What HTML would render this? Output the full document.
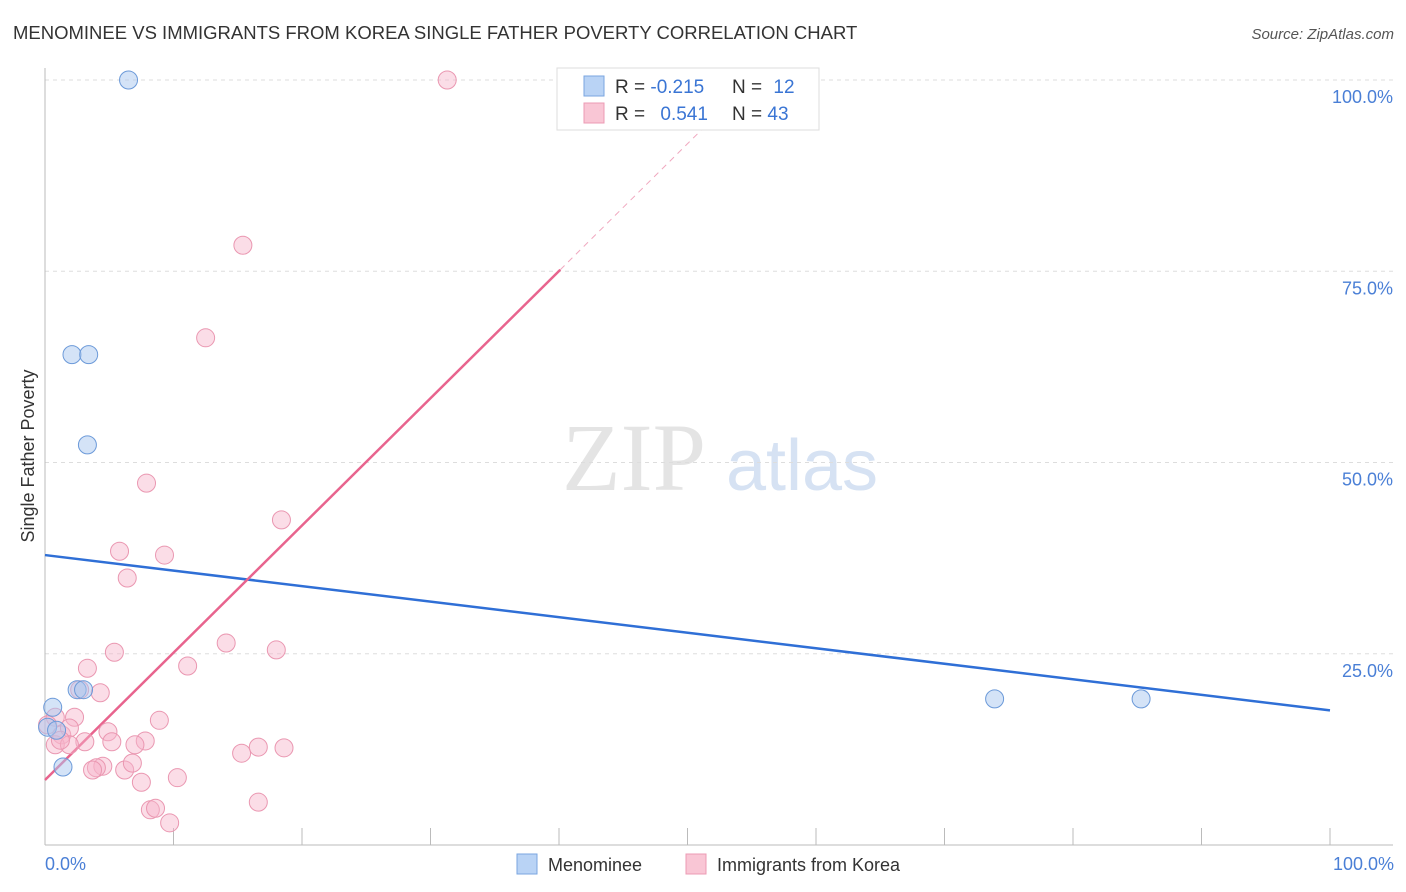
<!DOCTYPE html>
<html><head><meta charset="utf-8">
<style>
body{margin:0;background:#fff;font-family:"Liberation Sans",sans-serif;}
#wrap{position:relative;width:1406px;height:892px;overflow:hidden;}
</style></head>
<body>
<div id="wrap">
<svg id="svg" width="1406" height="892" xmlns="http://www.w3.org/2000/svg">
<text x="13" y="39" font-size="18.5" fill="#333">MENOMINEE VS IMMIGRANTS FROM KOREA SINGLE FATHER POVERTY CORRELATION CHART</text>
<text x="1394" y="39" font-size="15" fill="#555" font-style="italic" text-anchor="end">Source: ZipAtlas.com</text>
<text x="634" y="490" font-size="96" fill="#e4e4e4" font-family="Liberation Serif,serif" text-anchor="middle">ZIP</text>
<text x="802" y="490" font-size="72" fill="#d6e2f3" text-anchor="middle">atlas</text>
<g id="grid"></g>
<g id="axes"></g>
<g id="lines"></g>
<g id="points"></g>
<text transform="translate(34,456) rotate(-90)" font-size="18" fill="#333" text-anchor="middle">Single Father Poverty</text>
<text x="45" y="870" font-size="18" fill="#4a7fd6">0.0%</text>
<text x="1394" y="870" font-size="18" fill="#4a7fd6" text-anchor="end">100.0%</text>
<g>
<rect x="557" y="68" width="262" height="62" fill="#fff" stroke="#ddd"/>
<rect x="584" y="76" width="20" height="20" fill="#b9d3f5" stroke="#7aa6e0"/>
<rect x="584" y="103" width="20" height="20" fill="#f9c6d5" stroke="#ec9bb4"/>
<text x="615" y="93" font-size="19" fill="#333">R = <tspan fill="#3a75d4">-0.215</tspan></text>
<text x="732" y="93" font-size="19" fill="#333">N = <tspan fill="#3a75d4" dx="6">12</tspan></text>
<text x="615" y="120" font-size="19" fill="#333">R = <tspan fill="#3a75d4" dx="10">0.541</tspan></text>
<text x="732" y="120" font-size="19" fill="#333">N = <tspan fill="#3a75d4">43</tspan></text>
</g>
<g>
<rect x="517" y="854" width="20" height="20" fill="#b9d3f5" stroke="#7aa6e0"/>
<text x="548" y="871" font-size="18" fill="#333">Menominee</text>
<rect x="686" y="854" width="20" height="20" fill="#f9c6d5" stroke="#ec9bb4"/>
<text x="717" y="871" font-size="18" fill="#333">Immigrants from Korea</text>
</g>
</svg>
</div>
<script>
const yTicks=[25,50,75,100];
const yTickLabels=["25.0%","50.0%","75.0%","100.0%"];
const xTicks=[0,10,20,30,40,50,60,70,80,90,100];
const menX=[6.5,2.1,3.4,3.3,2.5,3.0,0.6,0.2,0.9,1.4,73.9,85.3];
const menY=[100,64.1,64.1,52.3,20.3,20.3,18.0,15.4,15.0,10.2,19.1,19.1];
const korX=[31.3,15.4,12.5,7.9,18.4,5.8,9.3,6.4,14.1,18.0,5.4,3.3,11.1,4.3,2.7,0.8,2.3,8.9,0.2,1.3,1.9,4.9,3.1,5.2,7.8,7.0,0.8,1.9,15.3,16.6,18.6,4.5,4.0,3.7,6.2,6.8,7.5,10.3,16.6,8.2,8.6,9.7,1.2];
const korY=[100,78.4,66.3,47.3,42.5,38.4,37.9,34.9,26.4,25.5,25.2,23.1,23.4,19.9,20.3,16.7,16.7,16.3,15.7,14.4,15.3,14.8,13.5,13.5,13.6,13.1,13.1,13.1,12.0,12.8,12.7,10.3,10.1,9.8,9.8,10.7,8.2,8.8,5.6,4.6,4.8,2.9,13.7];
const menTrend=[37.9,17.6];
const korTrend=[8.5,75.2,40.1,100];

const NS="http://www.w3.org/2000/svg";
const X0=45,X1=1330,Y0=845,Y1=80;
function sx(v){return X0+(X1-X0)*v/100;}
function sy(v){return Y0-(Y0-Y1)*v/100;}
function mk(tag,attrs,parent){const e=document.createElementNS(NS,tag);for(const k in attrs)e.setAttribute(k,attrs[k]);document.getElementById(parent).appendChild(e);return e;}

yTicks.forEach((t,i)=>{
  const l=mk('line',{x1:X0,x2:1393,y1:sy(t),y2:sy(t),stroke:'#ddd','stroke-dasharray':'4,4'},'grid');
  
  
  const tx=mk('text',{x:1393,y:sy(t)+23,'font-size':18,fill:'#4a7fd6','text-anchor':'end'},'grid');
  tx.textContent=yTickLabels[i];
  
  
});
let ax=mk('line',{x1:X0,x2:X0,y1:68,y2:Y0,stroke:'#bbb'},'axes');


ax=mk('line',{x1:X0,x2:1393,y1:Y0,y2:Y0,stroke:'#bbb'},'axes');


xTicks.forEach(t=>{
  const l=mk('line',{x1:sx(t),x2:sx(t),y1:828,y2:Y0,stroke:'#bbb'},'axes');
  
  
});
let tl=mk('line',{x1:sx(0),y1:sy(menTrend[0]),x2:sx(100),y2:sy(menTrend[1]),stroke:'#2f6fd6','stroke-width':2.5},'lines');


const slope=(korTrend[1]-korTrend[0])/korTrend[2];
tl=mk('line',{x1:sx(0),y1:sy(korTrend[0]),x2:sx(korTrend[2]),y2:sy(korTrend[1]),stroke:'#e8648e','stroke-width':2.5},'lines');


const xe=(korTrend[3]-korTrend[0])/slope;
tl=mk('line',{x1:sx(korTrend[2]),y1:sy(korTrend[1]),x2:sx(xe),y2:sy(korTrend[3]),stroke:'#f0a8bf','stroke-width':1,'stroke-dasharray':'6,5'},'lines');


korX.forEach((v,i)=>{
  const c=mk('circle',{cx:sx(v),cy:sy(korY[i]),r:9,fill:'rgba(246,180,202,0.45)',stroke:'#ea97b1','stroke-width':1},'points');
  
  
});
menX.forEach((v,i)=>{
  const c=mk('circle',{cx:sx(v),cy:sy(menY[i]),r:9,fill:'rgba(170,200,240,0.5)',stroke:'#6c9ad9','stroke-width':1},'points');
  
  
});
</script>
</body></html>
